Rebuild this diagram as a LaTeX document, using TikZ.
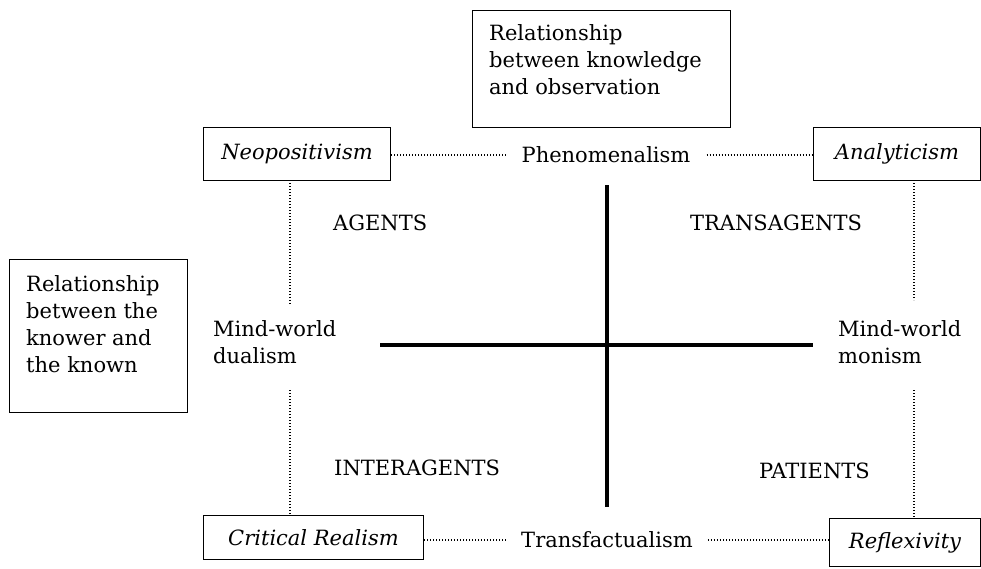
\documentclass[tikz,border=0pt]{standalone}
\usepackage{fontspec}
\setmainfont{DejaVu Serif}
\begin{document}
\begin{tikzpicture}[x=1pt,y=-1pt,
  every node/.style={font=\fontsize{21}{27}\selectfont, inner sep=0pt},
  framebox/.style={draw, line width=1pt, anchor=north west},
  ibox/.style={framebox, font=\fontsize{21}{27}\selectfont\itshape},
  txt/.style={anchor=base west, align=left},
  dotline/.style={line width=1.1pt, dash pattern=on 1.1pt off 1.9pt},
  axis/.style={line width=3.6pt}]
\useasboundingbox (0,0) rectangle (981,568);

% framed boxes
\node (kobox) [framebox, minimum width=258pt, minimum height=117pt] at (472,10) {};
\node (kotext) [txt] at (489,94) {Relationship\\between knowledge\\and observation};
\node (kkbox) [framebox, minimum width=178pt, minimum height=153pt] at (9,259) {};
\node (kktext) [txt] at (26,372) {Relationship\\between the\\knower and\\the known};

\node (neo) [ibox, minimum width=187pt, minimum height=53pt] at (203,127) {Neopositivism};
\node (ana) [ibox, minimum width=167pt, minimum height=53pt] at (813,127) {Analyticism};
\node (cr)  [ibox, minimum width=220pt, minimum height=44pt] at (203,515) {Critical Realism};
\node (ref) [ibox, minimum width=151pt, minimum height=48pt] at (829,518) {Reflexivity};

% middle texts
\node (phen) [inner xsep=16pt] at (606,155) {Phenomenalism};
\node (trans) [inner xsep=15pt] at (607,540) {Transfactualism};
\node (dual) [txt] at (213,363) {Mind-world\\dualism};
\node (mon)  [txt] at (838,363) {Mind-world\\monism};

% quadrant labels
\node (agents) [anchor=base west] at (333,230) {AGENTS};
\node (trag)   [anchor=base] at (776,230) {TRANSAGENTS};
\node (inter)  [anchor=base west] at (334,475) {INTERAGENTS};
\node (pat)    [anchor=base east] at (870,478) {PATIENTS};

% dotted connectors
\draw[dotline] (neo.east |- phen.west) -- (phen.west);
\draw[dotline] (phen.east) -- (ana.west |- phen.east);
\draw[dotline] (cr.east |- trans.west) -- (trans.west);
\draw[dotline] (trans.east) -- (ref.west |- trans.east);

\coordinate (lt) at (290,180);
\coordinate (lb) at (290,304);
\coordinate (lc) at (290,390);
\coordinate (ld) at (290,515);
\coordinate (rt) at (914,180);
\coordinate (rb) at (914,300);
\coordinate (rc) at (914,390);
\coordinate (rd) at (914,518);
\draw[dotline] (lt) -- (lb);
\draw[dotline] (lc) -- (ld);
\draw[dotline] (rt) -- (rb);
\draw[dotline] (rc) -- (rd);

% axes
\coordinate (vt) at (607,185);
\coordinate (vb) at (607,507);
\coordinate (hl) at (380,345);
\coordinate (hr) at (813,345);
\draw[axis] (vt) -- (vb);
\draw[axis] (hl) -- (hr);
\end{tikzpicture}
\end{document}
